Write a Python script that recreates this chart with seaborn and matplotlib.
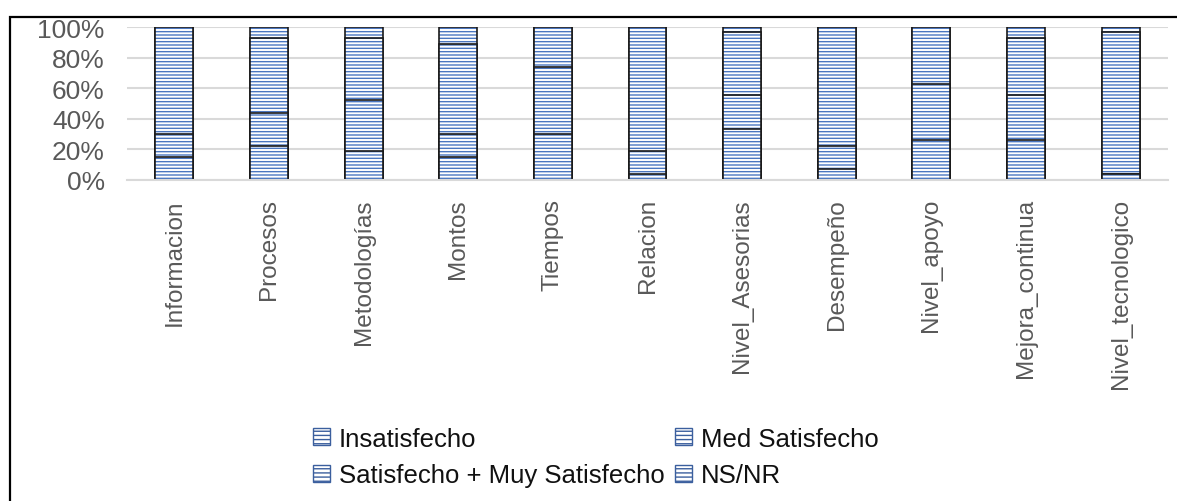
import matplotlib
matplotlib.use("Agg")
import matplotlib.pyplot as plt
import seaborn as sns
import numpy as np
from matplotlib.patches import Patch, Rectangle
from matplotlib.ticker import FuncFormatter

# datos (% de respuestas por aspecto)
categorias = ['Informacion', 'Procesos', 'Metodologías', 'Montos', 'Tiempos', 'Relacion',
              'Nivel_Asesorias', 'Desempeño', 'Nivel_apoyo', 'Mejora_continua', 'Nivel_tecnologico']
insatisfecho = [15, 22, 19, 15, 30, 4, 33.5, 7.5, 26, 26, 4]
med_satisfecho = [15, 22, 33, 15, 44, 15, 22, 15, 37, 29.5, 0]
satisfecho_muy = [70, 49, 41, 59, 26, 81, 41, 77.5, 37, 37.5, 92.5]
ns_nr = [0, 7, 7, 11, 0, 0, 3.5, 0, 0, 7, 3.5]
series = ['Insatisfecho', 'Med Satisfecho', 'Satisfecho + Muy Satisfecho', 'NS/NR']

sns.set_style("white")
plt.rcParams['font.family'] = ['Liberation Sans', 'DejaVu Sans']
plt.rcParams['hatch.linewidth'] = 1.0

azul = '#4a76c0'
trama = '-----'

fig = plt.figure(figsize=(11.77, 5.02), dpi=100)
ax = fig.add_axes([127/1177, 1-181/502, (1168-127)/1177, 153/502])

capas = np.array([insatisfecho, med_satisfecho, satisfecho_muy, ns_nr], dtype=float)
totales = capas.sum(axis=0)
acum = np.cumsum(capas / totales, axis=0)

# de arriba hacia abajo para simular el apilado
for i in range(3, -1, -1):
    n0 = len(ax.patches)
    sns.barplot(x=categorias, y=acum[i], width=0.4, ax=ax, color='white', saturation=1)
    for p in ax.patches[n0:]:
        p.set_facecolor('white')
        p.set_edgecolor(azul)
        p.set_hatch(trama)
        p.set_linewidth(0)
    n0 = len(ax.patches)
    sns.barplot(x=categorias, y=acum[i], width=0.4, ax=ax, color='white', saturation=1)
    for p in ax.patches[n0:]:
        p.set_fill(False)
        p.set_edgecolor('#1a1a1a')
        p.set_linewidth(1.2)

ax.set_ylim(0, 1)
ax.set_xlim(-0.5, 10.5)
ax.set_yticks(np.arange(0, 1.01, 0.2))
ax.yaxis.set_major_formatter(FuncFormatter(lambda v, p: f'{v*100:.0f}%'))
ax.yaxis.grid(True, color='#d9d9d9', linewidth=1.5)
ax.set_axisbelow(True)
for s in ['top', 'right', 'left']:
    ax.spines[s].set_visible(False)
ax.spines['bottom'].set_color('#d9d9d9')
ax.spines['bottom'].set_linewidth(1.5)

ax.tick_params(axis='y', length=0, pad=16, labelsize=19, labelcolor='#595959')
ax.tick_params(axis='x', which='major', length=0, pad=13, labelsize=17.5, labelcolor='#595959',
               labelrotation=90)
ax.set_xticks(np.arange(-0.5, 11, 1), minor=True)
ax.tick_params(axis='x', which='minor', length=8, width=1.5, color='#d9d9d9')
ax.set_xlabel('')
ax.set_ylabel('')

handles = [Patch(facecolor='white', edgecolor='#3b5f9e', hatch='----', linewidth=1.0, label=s) for s in series]
orden = [0, 2, 1, 3]
fig.legend([handles[k] for k in orden], [series[k] for k in orden], ncol=2,
           loc='center', bbox_to_anchor=(596/1177, 1-458/502), frameon=False,
           fontsize=18.5, handlelength=0.65, handleheight=0.65, handletextpad=0.35,
           columnspacing=0.4, labelspacing=0.5, labelcolor='#111111')

fig.patches.append(Rectangle((9.5/1177, -0.2), 1.5, 1-17.5/502+0.2, transform=fig.transFigure,
                             fill=False, edgecolor='black', linewidth=1.6))

fig.savefig('out.png', dpi=100)
